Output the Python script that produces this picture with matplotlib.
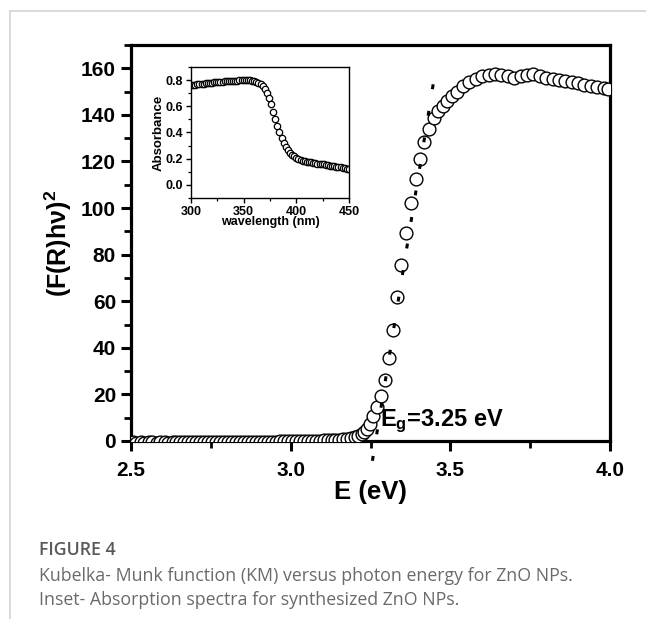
import matplotlib
matplotlib.use("Agg")
import matplotlib.pyplot as plt
from matplotlib.lines import Line2D
from matplotlib.ticker import MultipleLocator

plt.rcParams['font.family'] = ['Liberation Sans', 'DejaVu Sans']
plt.rcParams['mathtext.fontset'] = 'custom'
plt.rcParams['mathtext.rm'] = 'Liberation Sans:bold'
plt.rcParams['mathtext.it'] = 'Liberation Sans:bold'
plt.rcParams['mathtext.bf'] = 'Liberation Sans:bold'
plt.rcParams['mathtext.default'] = 'rm'

# ---- main data: Kubelka-Munk (F(R)hv)^2 vs E ----
energy_eV = [2.505, 2.517, 2.530, 2.542, 2.555, 2.567, 2.580, 2.592, 2.605, 2.617,
             2.630, 2.642, 2.655, 2.667, 2.680, 2.692, 2.705, 2.717, 2.730, 2.742,
             2.755, 2.767, 2.780, 2.792, 2.805, 2.817, 2.830, 2.842, 2.855, 2.867,
             2.880, 2.892, 2.905, 2.917, 2.930, 2.942, 2.955, 2.967, 2.980, 2.992,
             3.005, 3.017, 3.030, 3.042, 3.055, 3.067, 3.080, 3.092, 3.105, 3.117,
             3.128, 3.139, 3.150, 3.163, 3.176, 3.189, 3.201, 3.212, 3.222, 3.231,
             3.240, 3.249, 3.259, 3.270, 3.283, 3.296, 3.309, 3.322, 3.334, 3.346,
             3.361, 3.376, 3.392, 3.405, 3.418, 3.434, 3.448, 3.462, 3.476, 3.490,
             3.504, 3.520, 3.540, 3.560, 3.580, 3.600, 3.620, 3.640, 3.660, 3.680,
             3.700, 3.720, 3.740, 3.760, 3.780, 3.800, 3.820, 3.840, 3.860, 3.880,
             3.900, 3.920, 3.940, 3.960, 3.980, 3.995]
km_values = [-0.6, -0.7, -0.6, -0.7, -0.6, -0.6, -0.7, -0.6, -0.6, -0.7,
             -0.6, -0.5, -0.6, -0.6, -0.5, -0.6, -0.6, -0.5, -0.6, -0.5,
             -0.5, -0.6, -0.5, -0.5, -0.4, -0.5, -0.5, -0.4, -0.5, -0.4,
             -0.4, -0.4, -0.3, -0.4, -0.3, -0.3, -0.3, -0.2, -0.2, -0.2,
             -0.1, -0.1, 0.0, 0.0, 0.1, 0.1, 0.2, 0.2, 0.3, 0.3,
             0.4, 0.5, 0.6, 0.7, 0.9, 1.2, 1.6, 2.2, 3.0, 3.8,
             5.0, 7.4, 10.8, 14.5, 19.5, 26.0, 35.5, 47.5, 62.0, 75.5,
             89.5, 102.0, 112.5, 121.0, 128.5, 134.0, 138.5, 141.5, 144.0, 146.0,
             148.0, 150.0, 152.5, 154.0, 155.5, 156.5, 157.0, 157.5, 157.0, 156.5,
             156.0, 156.5, 157.0, 157.5, 156.5, 156.0, 155.5, 155.0, 154.5, 154.0,
             153.5, 153.0, 152.5, 152.0, 151.5, 151.0]

# linear fit (Tauc extrapolation) end points
fit_E = [3.256, 3.452]
fit_y = [-8.5, 158.0]

# ---- inset data: absorbance vs wavelength ----
wavelength_nm = [300, 302, 304, 306, 308, 310, 312, 314, 316, 318,
                 320, 322, 324, 326, 328, 330, 332, 334, 336, 338,
                 340, 342, 344, 346, 348, 350, 352, 354, 356, 358,
                 360, 362, 364, 366, 368, 370, 372, 374, 376, 378,
                 380, 382, 384, 386, 388, 390, 392, 394, 396, 398,
                 400, 402, 404, 406, 408, 410, 412, 414, 416, 418,
                 420, 422, 424, 426, 428, 430, 432, 434, 436, 438,
                 440, 442, 444, 446, 448, 450]
absorbance = [0.762, 0.765, 0.766, 0.768, 0.770, 0.772, 0.774, 0.776, 0.777, 0.779,
              0.781, 0.783, 0.784, 0.786, 0.787, 0.789, 0.790, 0.791, 0.792, 0.793,
              0.794, 0.795, 0.796, 0.797, 0.797, 0.798, 0.798, 0.798, 0.797, 0.795,
              0.792, 0.787, 0.780, 0.770, 0.755, 0.735, 0.705, 0.665, 0.615, 0.555,
              0.500, 0.450, 0.400, 0.358, 0.322, 0.292, 0.268, 0.247, 0.230, 0.217,
              0.207, 0.199, 0.192, 0.186, 0.181, 0.177, 0.174, 0.171, 0.168, 0.166,
              0.163, 0.161, 0.159, 0.157, 0.154, 0.151, 0.148, 0.146, 0.143, 0.140,
              0.137, 0.134, 0.131, 0.127, 0.124, 0.120]

main_xticks = [2.5, 3.0, 3.5, 4.0]
main_yticks = [0, 20, 40, 60, 80, 100, 120, 140, 160]
inset_xticks = [300, 350, 400, 450]
inset_yticks = [0.0, 0.2, 0.4, 0.6, 0.8]

W, H = 646, 619
fig = plt.figure(figsize=(W / 100, H / 100), dpi=100)

# page decorations (gray frame lines)
fig.add_artist(Line2D([10 / W, 10 / W], [0, 1 - 11 / H], color='#d4d4d4', lw=1.2))
fig.add_artist(Line2D([10 / W, 1], [1 - 11 / H, 1 - 11 / H], color='#d4d4d4', lw=1.2))

ax = fig.add_axes([131 / W, 1 - 441 / H, (610 - 131) / W, (441 - 45) / H])
ax.plot(energy_eV, km_values, linestyle='none', marker='o', ms=9.2,
        mfc='white', mec='black', mew=1.0, zorder=3)
ax.plot(fit_E, fit_y, color='black', lw=2.2, dashes=(1.6, 7.2),
        clip_on=False, zorder=4)
ax.set_xlim(2.5, 4.0)
ax.set_ylim(0, 170)
ax.set_xticks(main_xticks)
ax.set_xticklabels([f"{v:.1f}" for v in main_xticks])
ax.set_yticks(main_yticks)
ax.xaxis.set_minor_locator(MultipleLocator(0.25))
ax.yaxis.set_minor_locator(MultipleLocator(10))
for s in ax.spines.values():
    s.set_linewidth(2.3)
ax.tick_params(which='major', direction='out', length=7.3, width=2.2,
               labelsize=15)
ax.tick_params(which='minor', direction='out', length=5.0, width=2.0)
ax.tick_params(axis='x', which='major', pad=7)
ax.tick_params(axis='y', which='major', pad=3.5)
for lbl in ax.get_xticklabels() + ax.get_yticklabels():
    lbl.set_fontweight('bold')
ax.set_xlabel('E (eV)', fontsize=18.5, fontweight='bold', labelpad=0)
ax.set_ylabel('(F(R)hν)$^{2}$', fontsize=18, fontweight='bold', labelpad=5)
ax.text(3.28, 6.5, 'E$_{g}$=3.25 eV', fontsize=17, fontweight='bold',
        ha='left', va='baseline', zorder=5)

# inset
axi = fig.add_axes([191 / W, 1 - 198 / H, (349 - 191) / W, (198 - 67) / H])
axi.plot(wavelength_nm, absorbance, linestyle='none', marker='o', ms=4.6,
         mfc='white', mec='black', mew=0.9)
axi.set_xlim(300, 450)
axi.set_ylim(-0.1, 0.9)
axi.set_xticks(inset_xticks)
axi.set_yticks(inset_yticks)
axi.set_yticklabels([f"{v:.1f}" for v in inset_yticks])
axi.xaxis.set_minor_locator(MultipleLocator(25))
axi.yaxis.set_minor_locator(MultipleLocator(0.1))
for s in axi.spines.values():
    s.set_linewidth(1.0)
axi.tick_params(which='major', direction='out', length=3.5, width=1.0,
                labelsize=9, pad=2)
axi.tick_params(which='minor', direction='out', length=2.2, width=0.9)
for lbl in axi.get_xticklabels() + axi.get_yticklabels():
    lbl.set_fontweight('bold')
axi.set_xlabel('wavelength (nm)', fontsize=9, fontweight='bold', labelpad=-1)
axi.set_ylabel('Absorbance', fontsize=9.5, fontweight='bold', labelpad=1)

# caption
cap = ['Open Sans', 'DejaVu Sans']
fig.text(39 / W, 1 - 550 / H, 'FIGURE 4', fontsize=12.8, fontweight='semibold',
         color='#595959', ha='left', va='center', family=cap)
fig.text(39 / W, 1 - 576 / H,
         'Kubelka- Munk function (KM) versus photon energy for ZnO NPs.',
         fontsize=12.8, color='#6a6a6a', ha='left', va='center', family=cap)
fig.text(39 / W, 1 - 600 / H,
         'Inset- Absorption spectra for synthesized ZnO NPs.',
         fontsize=12.8, color='#6a6a6a', ha='left', va='center', family=cap)

fig.savefig('out.png', dpi=100)
